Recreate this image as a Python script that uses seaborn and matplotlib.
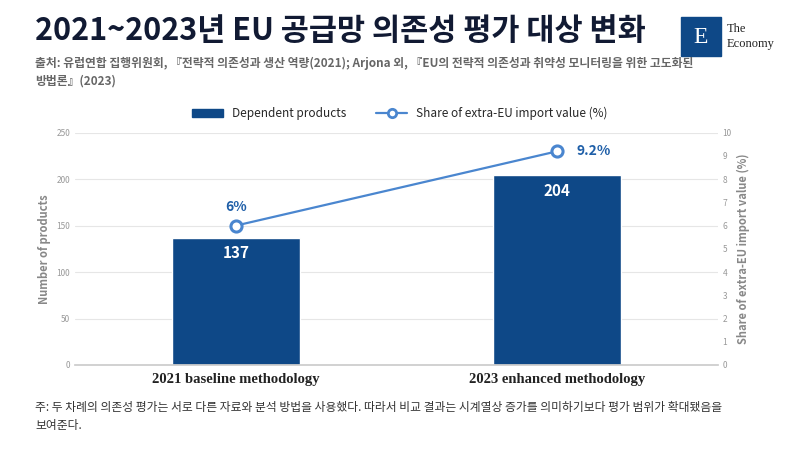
import numpy as np
import pandas as pd
import matplotlib
matplotlib.use("Agg")
import matplotlib.pyplot as plt
import seaborn as sns
from matplotlib.lines import Line2D
from matplotlib.patches import Patch, Rectangle

categories = ["2021 baseline methodology", "2023 enhanced methodology"]
products = [137, 204]
share = [6.0, 9.2]
share_labels = ["6%", "9.2%"]

sns.set_theme(style="white")
plt.rcParams["font.family"] = ["Noto Sans CJK KR", "DejaVu Sans"]

bar_c = "#0e4887"
line_c = "#4a86cf"

fig = plt.figure(figsize=(8, 4.5), dpi=100)
ax = fig.add_axes([0.094, 0.189, 0.803, 0.516])
df = pd.DataFrame({"cat": categories, "n": products})
sns.barplot(data=df, x="cat", y="n", color=bar_c, width=0.4, saturation=1, ax=ax)
ax.set_ylim(0, 250)
ax.set_yticks(range(0, 251, 50))
ax.tick_params(axis="y", labelsize=6, colors="#999999", length=0)
ax.set_ylabel("Number of products", fontsize=8, color="#888888", fontweight="bold")
ax.set_xlabel("")
ax.set_xticks([0, 1])
ax.set_xticklabels(categories, fontsize=10.5, fontweight="bold", family="Liberation Serif", color="#222222")
ax.tick_params(axis="x", length=0, pad=6)
ax.grid(axis="y", color="#e6e6e6", linewidth=0.8)
ax.set_axisbelow(True)
for s in ["top", "right", "left"]:
    ax.spines[s].set_visible(False)
ax.spines["bottom"].set_color("#cccccc")
for i, v in enumerate(products):
    ax.text(i, v - 17, str(v), ha="center", va="center", color="white", fontsize=11, fontweight="bold")

ax2 = ax.twinx()
sns.lineplot(x=[0, 1], y=share, ax=ax2, color=line_c, linewidth=1.6, marker="o",
             markersize=8, markerfacecolor="white", markeredgecolor=line_c, markeredgewidth=2.2)
ax2.set_ylim(0, 10)
ax2.set_yticks(range(0, 11))
ax2.tick_params(axis="y", labelsize=6, colors="#999999", length=0)
ax2.set_ylabel("Share of extra-EU import value (%)", fontsize=8, color="#888888", fontweight="bold")
for s in ax2.spines.values():
    s.set_visible(False)
ax.set_xlim(-0.5, 1.5)
ax2.set_xlim(-0.5, 1.5)
ax2.text(0, share[0] + 0.5, share_labels[0], ha="center", va="bottom", color="#1f5fa8", fontsize=10, fontweight="bold")
ax2.text(1.06, share[1], share_labels[1], ha="left", va="center", color="#1f5fa8", fontsize=10, fontweight="bold")

handles = [Patch(color=bar_c),
           Line2D([], [], color=line_c, marker="o", markerfacecolor="white", markeredgewidth=2, lw=1.6)]
fig.legend(handles, ["Dependent products", "Share of extra-EU import value (%)"],
           loc="center", bbox_to_anchor=(0.5, 0.748), ncol=2, frameon=False,
           prop={"size": 8.5}, handlelength=2.6, columnspacing=2.5)

fig.text(0.044, 0.912, "2021~2023년 EU 공급망 의존성 평가 대상 변화", fontsize=22, fontweight="bold", color="#111a33")
fig.text(0.044, 0.84, "출처: 유럽연합 집행위원회, 『전략적 의존성과 생산 역량(2021); Arjona 외, 『EU의 전략적 의존성과 취약성 모니터링을 위한 고도화된\n방법론』(2023)",
         fontsize=8.5, color="#666666", fontweight="bold", va="center", linespacing=1.5)
fig.text(0.044, 0.075, "주: 두 차례의 의존성 평가는 서로 다른 자료와 분석 방법을 사용했다. 따라서 비교 결과는 시계열상 증가를 의미하기보다 평가 범위가 확대됐음을\n보여준다.",
         fontsize=8.5, color="#333333", va="center", linespacing=1.5)

fig.patches.append(Rectangle((0.851, 0.875), 0.05, 0.088, transform=fig.transFigure, color="#0e4887"))
fig.text(0.876, 0.917, "E", fontsize=17, color="white", family="Liberation Serif", ha="center", va="center")
fig.text(0.908, 0.935, "The", fontsize=9, color="#222222", family="Liberation Serif", va="center")
fig.text(0.908, 0.903, "Economy", fontsize=9, color="#222222", family="Liberation Serif", va="center")

fig.savefig("out.png", dpi=100, facecolor="white")
